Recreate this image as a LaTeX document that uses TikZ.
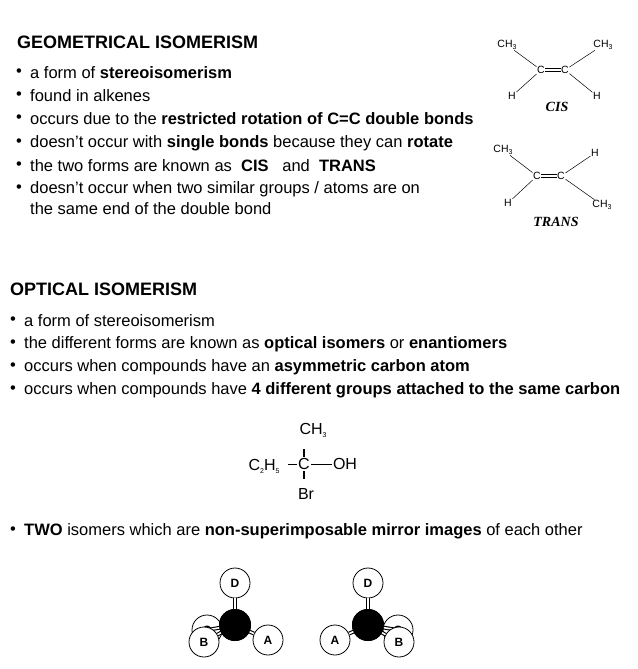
\documentclass[tikz,border=0pt]{standalone}
\usepackage{fontspec}
\setmainfont{Liberation Sans}
\newfontfamily\serifit{Liberation Serif}
\newcommand{\lo}[1]{\raisebox{-0.35ex}{\scriptsize #1}}
\begin{document}
\begin{tikzpicture}[x=1pt,y=1pt,
  txt/.style={anchor=west,inner sep=0pt,font=\fontsize{16.5}{18}\selectfont},
  head/.style={anchor=west,inner sep=0pt,font=\fontsize{18}{19}\selectfont\bfseries},
  sm/.style={inner sep=0.5pt,font=\fontsize{10.5}{11}\selectfont},
  lab/.style={inner sep=0pt,font=\fontsize{14}{15}\selectfont\serifit\itshape\bfseries},
  big/.style={inner sep=0.5pt,font=\fontsize{16}{17}\selectfont},
  atom/.style={circle,draw,line width=0.8pt,fill=white,minimum size=30pt,inner sep=0pt,font=\fontsize{12}{13}\selectfont\bfseries},
  cent/.style={circle,fill=black,minimum size=32pt,inner sep=0pt},
  bnd/.style={draw=black,line width=3.8pt,postaction={draw=white,line width=1.6pt}}]
\useasboundingbox (0,0) rectangle (637,-669);

% geometrical isomerism
\node [head] at (17,-42) {GEOMETRICAL ISOMERISM};
\foreach \y/\t in {73/{a form of \textbf{stereoisomerism}},
  96/{found in alkenes},
  119/{occurs due to the \textbf{restricted rotation of C=C double bonds}},
  143/{doesn't occur with \textbf{single bonds} because they can \textbf{rotate}},
  166/{the two forms are known as\ \ \textbf{CIS}\ \ \ and\ \ \textbf{TRANS}},
  189/{doesn't occur when two similar groups / atoms are on}} {
  \node [txt] at (16,-\y) {\textbullet};
  \node [txt] at (30,-\y) {\t};
}
\node [txt] at (30,-209) {the same end of the double bond};

% cis
\node [sm] (c1) at (541,-70) {C};
\node [sm] (c2) at (565,-70) {C};
\node [sm] (a1) at (507,-45) {CH\lo{3}};
\node [sm] (a2) at (603,-45) {CH\lo{3}};
\node [sm] (a3) at (512,-96) {H};
\node [sm] (a4) at (597,-96) {H};
\draw [line width=0.6pt] ([yshift=1.3pt]c1.east) -- ([yshift=1.3pt]c2.west)
  ([yshift=-1.3pt]c1.east) -- ([yshift=-1.3pt]c2.west);
\draw [line width=0.5pt] (a1) -- (c1) (a3) -- (c1) (a2) -- (c2) (a4) -- (c2);
\node [lab] at (557,-107) {CIS};

% trans
\node [sm] (t1) at (537,-176) {C};
\node [sm] (t2) at (561,-176) {C};
\node [sm] (b1) at (503,-150) {CH\lo{3}};
\node [sm] (b2) at (595,-153) {H};
\node [sm] (b3) at (508,-203) {H};
\node [sm] (b4) at (602,-205) {CH\lo{3}};
\draw [line width=0.6pt] ([yshift=1.3pt]t1.east) -- ([yshift=1.3pt]t2.west)
  ([yshift=-1.3pt]t1.east) -- ([yshift=-1.3pt]t2.west);
\draw [line width=0.5pt] (b1) -- (t1) (b3) -- (t1) (b2) -- (t2) (b4) -- (t2);
\node [lab] at (556,-222) {TRANS};

% optical isomerism
\node [head] at (10,-289) {OPTICAL ISOMERISM};
\foreach \y/\t in {321/{a form of stereoisomerism},
  344/{the different forms are known as \textbf{optical isomers} or \textbf{enantiomers}},
  367/{occurs when compounds have an \textbf{asymmetric carbon atom}},
  390/{occurs when compounds have \textbf{4 different groups attached to the same carbon}}} {
  \node [txt] at (10,-\y) {\textbullet};
  \node [txt] at (24,-\y) {\t};
}

% formula
\node [big] (cc) at (304,-464) {C};
\node [big] (ch) at (313,-430) {CH\lo{3}};
\node [big] (et) at (264,-466) {C\lo{2}H\lo{5}};
\node [big] (oh) at (345,-464) {OH};
\node [big] (br) at (306,-494) {Br};
\draw [line width=1.4pt] (cc.north) ++(0,1) -- ++(0,8);
\draw [line width=1.4pt] (cc.south) ++(0,-1) -- ++(0,-8);
\draw ([xshift=-1pt]cc.west) -- ++(-9,0);
\draw ([xshift=1pt]cc.east) -- (oh.west);

\node [txt] at (10,-531) {\textbullet};
\node [txt] at (24,-531) {\textbf{TWO} isomers which are \textbf{non-superimposable mirror images} of each other};

% left molecule
\node [atom] (lC) at (207,-630) {C};
\node [cent] (lX) at (235,-625) {};
\draw [bnd] (lX.center) -- (lC.center);
\node [atom] (lD) at (235,-583) {D};
\node [atom] (lB) at (204,-642) {B};
\node [atom] (lA) at (268,-640) {A};
\draw [bnd] (lX.center) -- (lD);
\draw [bnd] (lX.center) -- (lB);
\draw [bnd] (lX.center) -- (lA);
\node [cent] at (lX) {};

% right molecule
\node [atom] (rC) at (398,-630) {C};
\node [cent] (rX) at (368,-625) {};
\draw [bnd] (rX.center) -- (rC.center);
\node [atom] (rD) at (368,-583) {D};
\node [atom] (rB) at (399,-642) {B};
\node [atom] (rA) at (335,-640) {A};
\draw [bnd] (rX.center) -- (rD);
\draw [bnd] (rX.center) -- (rB);
\draw [bnd] (rX.center) -- (rA);
\node [cent] at (rX) {};
\end{tikzpicture}
\end{document}
